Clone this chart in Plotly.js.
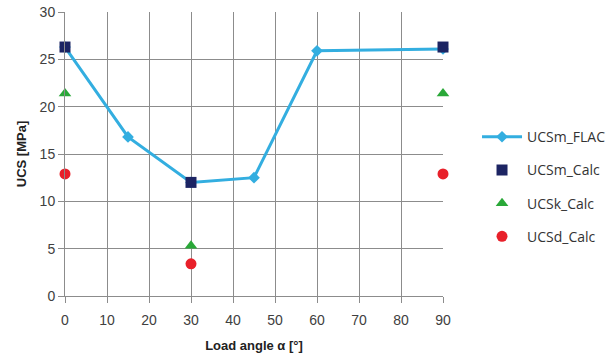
<!DOCTYPE html>
<html><head><meta charset="utf-8">
<script src="https://cdn.plot.ly/plotly-3.0.1.min.js"></script>
<style>body{margin:0;background:#fff}#c{width:609px;height:358px}</style>
</head><body><div id="c"></div>
<script>
const flacX = [0, 15, 30, 45, 60, 90];
const flacY = [26.3, 16.8, 12.0, 12.5, 25.9, 26.1];
const calcX = [0, 30, 90];
const ucsmCalc = [26.3, 12.0, 26.3];
const ucskCalc = [21.4, 5.3, 21.4];
const ucsdCalc = [12.9, 3.4, 12.9];
const xTicks = [0,10,20,30,40,50,60,70,80,90];
const yTicks = [0,5,10,15,20,25,30];

const traces = [
  {x: flacX, y: flacY, name: 'UCSm_FLAC', mode: 'lines+markers', legendgroup: 'a', cliponaxis: false,
   line: {color: '#33aee0', width: 3}, marker: {symbol: 'diamond', size: 9, color: '#33aee0'}},
  {x: calcX, y: ucsmCalc, name: 'UCSm_Calc', mode: 'markers', legendgroup: 'b', cliponaxis: false,
   marker: {symbol: 'square', size: 11, color: '#1c2463'}},
  {x: calcX, y: ucskCalc, name: 'UCSk_Calc', mode: 'markers', legendgroup: 'c', cliponaxis: false,
   marker: {symbol: 'triangle-up', size: 11, color: '#2aa838'}},
  {x: calcX, y: ucsdCalc, name: 'UCSd_Calc', mode: 'markers', legendgroup: 'd', cliponaxis: false,
   marker: {symbol: 'circle', size: 11, color: '#e8202a'}}
];
const layout = {
  width: 609, height: 358,
  margin: {l: 65, r: 166, t: 12, b: 62, autoexpand: false},
  paper_bgcolor: '#fff', plot_bgcolor: '#fff',
  font: {family: 'Liberation Sans, Arial, sans-serif', color: '#404040', size: 14},
  showlegend: true,
  legend: {x: 1.09, y: 0.385, xanchor: 'left', yanchor: 'middle', tracegroupgap: 12,
           traceorder: 'grouped',
           font: {size: 14, family: 'Open Sans, sans-serif', color: '#333'},
           itemwidth: 40},
  xaxis: {range: [0, 90], tickvals: xTicks, showgrid: true, gridcolor: '#8c8c8c', gridwidth: 1,
          showline: true, linecolor: '#8c8c8c', ticks: 'outside', ticklen: 6, tickcolor: '#8c8c8c',
          zeroline: false, mirror: false, ticklabelstandoff: 5,
          title: {text: '<b>Load angle α [°]</b>', font: {size: 13, color: '#222'}, standoff: 14}},
  yaxis: {range: [0, 30], tickvals: yTicks, showgrid: true, gridcolor: '#8c8c8c', gridwidth: 1,
          showline: true, linecolor: '#8c8c8c', ticks: 'outside', ticklen: 6, tickcolor: '#8c8c8c',
          zeroline: false,
          title: {text: '<b>UCS [MPa]</b>', font: {size: 13, color: '#222'}, standoff: 10}}
};
Plotly.newPlot('c', traces, layout, {displayModeBar: false, staticPlot: true});
</script></body></html>
